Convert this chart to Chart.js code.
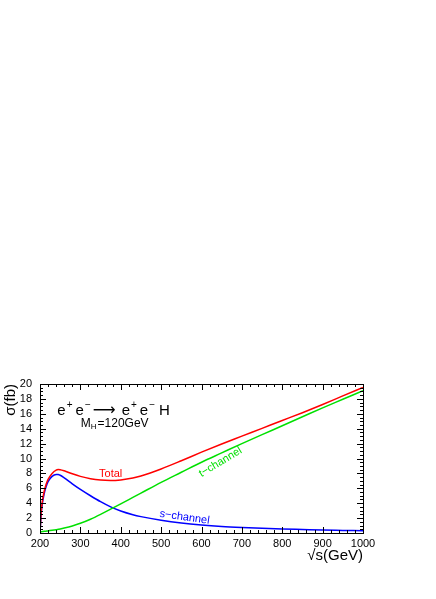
<!DOCTYPE html>
<html><head><meta charset="utf-8">
<script src="https://cdn.jsdelivr.net/npm/chart.js@4/dist/chart.umd.min.js"></script>
<style>html,body{margin:0;padding:0;background:#fff;}canvas{display:block;}</style>
</head><body>
<canvas id="c" width="436" height="599"></canvas>
<script>
// sqrt(s) in GeV
const sqrtS = [200,203,206,210,215,220,230,240,245,250,260,280,300,325,350,375,400,430,450,500,550,600,650,700,750,800,850,900,950,1000];
// cross sections in fb
const total    = [0,2.9,4.3,5.5,6.5,7.2,8.0,8.45,8.52,8.5,8.35,7.95,7.6,7.28,7.1,7.05,7.13,7.38,7.65,8.6,9.7,10.85,11.95,13.0,14.05,15.1,16.15,17.25,18.4,19.53];
const tChannel = [0.15,0.17,0.19,0.22,0.25,0.28,0.36,0.45,0.5,0.55,0.67,0.95,1.3,1.85,2.5,3.2,3.9,4.77,5.35,6.8,8.15,9.5,10.75,12.0,13.2,14.4,15.6,16.8,17.95,19.1];
const sChannel = [0,2.6,4.0,5.2,6.2,6.9,7.6,7.85,7.85,7.75,7.4,6.6,5.85,5.0,4.2,3.5,2.95,2.45,2.2,1.72,1.35,1.08,0.88,0.74,0.63,0.54,0.47,0.4,0.35,0.3];
const xTicks = [200,300,400,500,600,700,800,900,1000];
const yTicks = [0,2,4,6,8,10,12,14,16,18,20];
const seriesNames = ['Total','t\u2212channel','s\u2212channel'];

const FONT = '"Liberation Sans", Arial, Helvetica, sans-serif';

function pts(arr){ return sqrtS.map((x,i)=>({x:x,y:arr[i]})); }

const framePlugin = {
  id:'frame',
  afterDraw(chart){
    const {ctx, chartArea:a, scales:{x,y}} = chart;
    ctx.save();
    ctx.strokeStyle = '#000';
    ctx.lineWidth = 1;
    ctx.strokeRect(Math.round(a.left)+0.5, Math.round(a.top)+0.5, Math.round(a.right-a.left), Math.round(a.bottom-a.top));
    ctx.beginPath();
    for (let v = 200; v <= 1000; v += 20) {
      const px = Math.round(x.getPixelForValue(v)) + 0.5;
      const L = (v % 100 === 0) ? 6 : 3;
      ctx.moveTo(px, a.bottom); ctx.lineTo(px, a.bottom - L);
      ctx.moveTo(px, a.top); ctx.lineTo(px, a.top + L);
    }
    for (let v = 0; v <= 20.001; v += 0.5) {
      const py = Math.round(y.getPixelForValue(v)) + 0.5;
      const L = (Math.abs(v/2 - Math.round(v/2)) < 1e-6) ? 6 : 3;
      ctx.moveTo(a.left, py); ctx.lineTo(a.left + L, py);
      ctx.moveTo(a.right, py); ctx.lineTo(a.right - L, py);
    }
    ctx.stroke();

    // curve labels
    function rotText(txt, gx, gy, ang, color, size){
      ctx.save();
      ctx.translate(x.getPixelForValue(gx), y.getPixelForValue(gy));
      ctx.rotate(ang*Math.PI/180);
      ctx.fillStyle = color;
      ctx.font = size + 'px ' + FONT;
      ctx.textAlign = 'center'; ctx.textBaseline = 'middle';
      ctx.fillText(txt, 0, 0);
      ctx.restore();
    }
    rotText(seriesNames[0], 375, 7.95, 0, '#ff0000', 11);
    rotText(seriesNames[1], 647, 9.5, -31, '#00e000', 11);
    rotText(seriesNames[2], 558, 2.1, 8, '#0000ff', 11);

    // reaction
    ctx.fillStyle = '#000';
    ctx.textAlign = 'left'; ctx.textBaseline = 'alphabetic';
    let cx = x.getPixelForValue(243);
    const base = y.getPixelForValue(15.8);
    const big = '15px ' + FONT, sup = '10px ' + FONT;
    function put(t, f, dy, gap){
      ctx.font = f; ctx.fillText(t, cx, base + dy); cx += ctx.measureText(t).width + gap;
    }
    put('e', big, 0, 1); put('+', sup, -7, 3);
    put('e', big, 0, 1); put('\u2212', sup, -7, 2);
    put('\u27F6', '16px "DejaVu Sans", ' + FONT, 0, 6);
    put('e', big, 0, 1); put('+', sup, -7, 3);
    put('e', big, 0, 1); put('\u2212', sup, -7, 4);
    put('H', big, 0, 0);

    cx = x.getPixelForValue(301);
    const b2 = y.getPixelForValue(14.2);
    ctx.font = '12px ' + FONT; ctx.fillText('M', cx, b2); cx += ctx.measureText('M').width;
    ctx.font = '8px ' + FONT; ctx.fillText('H', cx, b2 + 2); cx += ctx.measureText('H').width + 1;
    ctx.font = '12px ' + FONT; ctx.fillText('=120GeV', cx, b2);
    ctx.restore();
  }
};

new Chart(document.getElementById('c'), {
  type:'line',
  data:{datasets:[
    {label:seriesNames[0], data:pts(total), borderColor:'#ff0000'},
    {label:seriesNames[1], data:pts(tChannel), borderColor:'#00e000'},
    {label:seriesNames[2], data:pts(sChannel), borderColor:'#0000ff'}
  ]},
  options:{
    responsive:false, animation:false, devicePixelRatio:1,
    layout:{padding:{left:0, top:384, right:73, bottom:32}},
    plugins:{legend:{display:false}, tooltip:{enabled:false}},
    elements:{point:{radius:0}, line:{borderWidth:1.5, cubicInterpolationMode:'monotone', fill:false}},
    scales:{
      x:{type:'linear', min:200, max:1000,
        afterBuildTicks:s=>{s.ticks = xTicks.map(v=>({value:v}));},
        afterFit:s=>{s.height = 34;},
        grid:{display:false, drawTicks:false}, border:{display:true, color:'#000', width:1},
        ticks:{color:'#000', font:{family:FONT, size:11}, padding:4, maxRotation:0, autoSkip:false, callback:v=>String(v)},
        title:{display:true, text:'\u221As(GeV)', align:'end', color:'#000', font:{family:FONT, size:15}, padding:{top:0,bottom:2}}
      },
      y:{type:'linear', min:0, max:20,
        afterBuildTicks:s=>{s.ticks = yTicks.map(v=>({value:v}));},
        afterFit:s=>{s.width = 40;},
        grid:{display:false, drawTicks:false}, border:{display:true, color:'#000', width:1},
        ticks:{color:'#000', font:{family:FONT, size:11}, padding:8, autoSkip:false, callback:v=>String(v)},
        title:{display:true, text:'\u03C3(fb)', align:'end', color:'#000', font:{family:FONT, size:15}, padding:{top:2,bottom:0}}
      }
    }
  },
  plugins:[framePlugin]
});
</script>
</body></html>
